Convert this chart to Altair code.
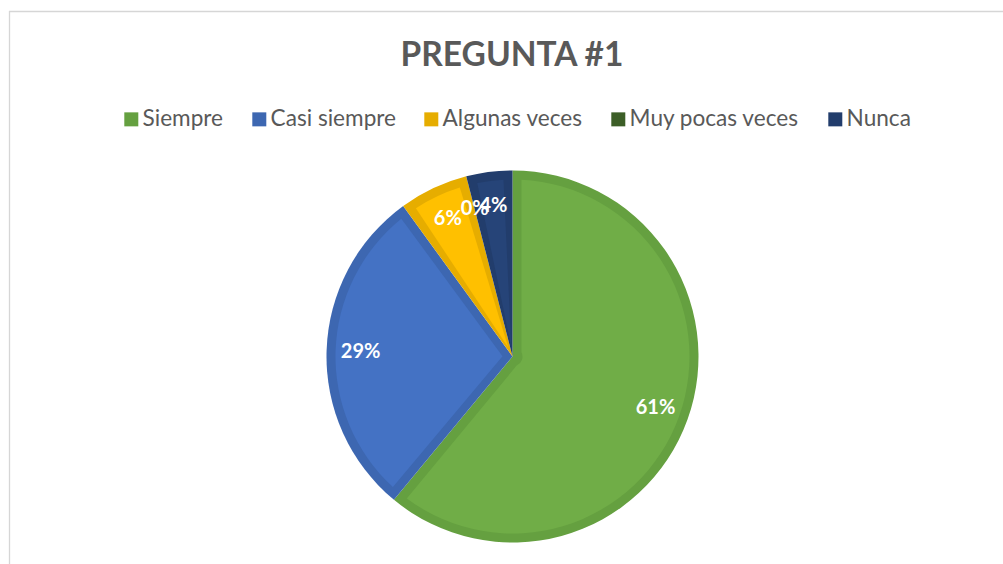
import altair as alt
import pandas as pd

titulo = "PREGUNTA #1"
categorias = ["Siempre", "Casi siempre", "Algunas veces", "Muy pocas veces", "Nunca"]
porcentajes = [61, 29, 6, 0, 4]
colores = ["#70AD47", "#4472C4", "#FFC000", "#43682B", "#264478"]
colores_borde = ["#65A040", "#3D67B1", "#E6AD00", "#3C5E27", "#223D6C"]

df = pd.DataFrame({
    "categoria": categorias,
    "valor": porcentajes,
    "orden": list(range(len(categorias))),
})
df["etiqueta"] = df["valor"].astype(str) + "%"

W, H = 1003, 564
CX, CY = 512.5, 356.5
R = 186
BORDE = 9
FONT = "Lato"
GRIS = "#595959"

theta = alt.Theta("valor:Q", stack=True)
order = alt.Order("orden:Q", sort="ascending")

dark = alt.Chart(df).mark_arc(outerRadius=R, innerRadius=0).encode(
    theta=theta,
    order=order,
    color=alt.Color(
        "categoria:N",
        sort=categorias,
        scale=alt.Scale(domain=categorias, range=colores_borde),
        legend=alt.Legend(
            title=None, orient="none", legendX=120, legendY=108,
            direction="horizontal", columns=5,
            symbolType="square", symbolSize=196, symbolStrokeWidth=0,
            labelFont=FONT, labelFontSize=22.6, labelColor=GRIS,
            labelOffset=0, columnPadding=24, padding=0, labelLimit=400,
        ),
    ),
    x=alt.value(CX),
    y=alt.value(CY),
)

light = alt.Chart(df).mark_arc(
    outerRadius=R - BORDE, innerRadius=10, padAngle=0.1016
).encode(
    theta=theta,
    order=order,
    color=alt.Color(
        "categoria:N",
        sort=categorias,
        scale=alt.Scale(domain=categorias, range=colores),
        legend=None,
    ),
    x=alt.value(CX),
    y=alt.value(CY),
)

labels = alt.Chart(df).mark_text(
    font=FONT, fontSize=20, fontWeight="bold", color="white"
).encode(
    theta=theta,
    order=order,
    radius=alt.value(152),
    text="etiqueta:N",
    x=alt.value(CX),
    y=alt.value(CY),
)

title_layer = alt.Chart(pd.DataFrame({"t": [titulo]})).mark_text(
    font=FONT, fontSize=33.5, fontWeight="bold", color=GRIS,
    baseline="alphabetic", align="center",
).encode(text="t:N", x=alt.value(512), y=alt.value(66))

one = pd.DataFrame({"d": [0]})
frame_top = alt.Chart(one).mark_rule(color="#D6D6D6", strokeWidth=1.3).encode(
    x=alt.value(9), x2=alt.value(W), y=alt.value(11.5)
)
frame_left = alt.Chart(one).mark_rule(color="#D6D6D6", strokeWidth=1.3).encode(
    x=alt.value(9.5), y=alt.value(11), y2=alt.value(H)
)

chart = alt.layer(
    frame_top, frame_left, dark, light, labels, title_layer
).resolve_scale(color="independent").properties(
    width=W, height=H, padding=0,
    autosize=alt.AutoSizeParams(type="none"),
    background="white",
).configure_view(stroke=None)

chart.save("out.html", embed_options={"renderer": "svg", "actions": False})
